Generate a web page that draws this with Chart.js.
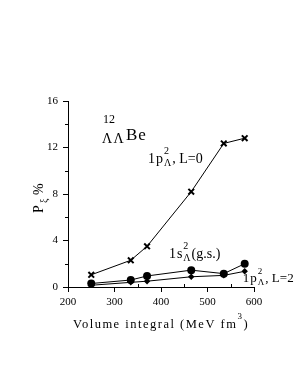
<!DOCTYPE html>
<html>
<head>
<meta charset="utf-8">
<script src="https://cdn.jsdelivr.net/npm/chart.js@4/dist/chart.umd.min.js"></script>
<style>
  html, body { margin: 0; padding: 0; background: #fff; }
  #wrap { width: 305px; height: 377px; }
</style>
</head>
<body>
<div id="wrap"><canvas id="lineChart" width="305" height="377"></canvas></div>
<script>
// volume integral (MeV fm^3)
var volumeIntegral = [250, 335, 370, 465, 535, 580];
// P, % for each configuration
var pL0 = [1.05, 2.3, 3.5, 8.2, 12.35, 12.8];   // 1p^2, L=0
var pGs = [0.3, 0.6, 0.95, 1.45, 1.15, 2.0];    // 1s^2 (g.s.)
var pL2 = [0.15, 0.4, 0.5, 0.88, 1.0, 1.35];    // 1p^2, L=2
var xTickLabels = [200, 300, 400, 500, 600];
var yTickLabels = [0, 4, 8, 12, 16];
var xMinor = [250, 350, 450, 550];
var yMinor = [2, 6, 10, 14];

var serif = "'Liberation Serif', 'DejaVu Serif', serif";

function points(ys) {
  var out = [];
  for (var i = 0; i < volumeIntegral.length; i++) {
    out.push({x: volumeIntegral[i], y: ys[i]});
  }
  return out;
}

// minor ticks and the text labels
var extras = {
  id: 'extras',
  afterDraw: function(chart) {
    var ctx = chart.ctx;
    var xs = chart.scales.x, ys = chart.scales.y;
    var bottom = chart.chartArea.bottom, left = chart.chartArea.left;
    ctx.save();
    ctx.strokeStyle = '#000';
    ctx.lineWidth = 1;
    ctx.beginPath();
    xMinor.forEach(function(v) {
      var px = Math.round(xs.getPixelForValue(v)) + 0.5;
      ctx.moveTo(px, bottom);
      ctx.lineTo(px, bottom - 3);
    });
    yMinor.forEach(function(v) {
      var py = Math.round(ys.getPixelForValue(v)) + 0.5;
      ctx.moveTo(left, py);
      ctx.lineTo(left - 3, py);
    });
    ctx.stroke();

    ctx.fillStyle = '#000';
    ctx.textBaseline = 'alphabetic';
    ctx.textAlign = 'left';

    function at(vx, vy) { return [xs.getPixelForValue(vx), ys.getPixelForValue(vy)]; }

    // 12/ΛΛ Be
    var p = at(275, 12.1);
    ctx.font = '12px ' + serif;
    ctx.fillText('12', p[0], p[1] - 23);
    ctx.letterSpacing = '1.5px';
    ctx.font = '14px ' + serif;
    ctx.fillText('ΛΛ', p[0] - 1, p[1] - 3);
    ctx.letterSpacing = '1px';
    ctx.font = '17px ' + serif;
    ctx.fillText('Be', p[0] + 23, p[1] - 6);
    ctx.letterSpacing = '0px';

    // label helper: 1x^2_Λ + tail
    function orbital(vx, vy, head, tail, size) {
      var q = at(vx, vy);
      ctx.font = size + 'px ' + serif;
      ctx.letterSpacing = '1px';
      ctx.fillText(head, q[0], q[1]);
      var w = ctx.measureText(head).width;
      ctx.font = Math.round(size * 0.72) + 'px ' + serif;
      ctx.letterSpacing = '0px';
      ctx.fillText('2', q[0] + w, q[1] - size * 0.64);
      ctx.fillText('Λ', q[0] + w, q[1] + 3);
      var w2 = ctx.measureText('Λ').width;
      ctx.font = size + 'px ' + serif;
      ctx.fillText(tail, q[0] + w + w2 + 1, q[1]);
    }
    orbital(372, 10.65, '1p', ', L=0', 14);
    orbital(417, 2.5, '1s', '(g.s.)', 14);
    orbital(576, 0.43, '1p', ', L=2', 13);

    // y title
    ctx.save();
    ctx.translate(43, 213);
    ctx.rotate(-Math.PI / 2);
    ctx.font = '14px ' + serif;
    ctx.fillText('P', 0, 0);
    ctx.font = '10px ' + serif;
    ctx.fillText('ξ', 10, 4);
    ctx.font = '14px ' + serif;
    ctx.fillText('%', 18, 0);
    ctx.restore();

    // x title
    ctx.font = '12.5px ' + serif;
    ctx.letterSpacing = '1.5px';
    ctx.fillText('Volume integral (MeV fm', 73, 328);
    var tw = ctx.measureText('Volume integral (MeV fm').width;
    ctx.font = '9px ' + serif;
    ctx.fillText('3', 73 + tw, 319);
    ctx.font = '12.5px ' + serif;
    ctx.fillText(')', 73 + tw + 6, 328);
    ctx.restore();
  }
};

var chart = document.getElementById('lineChart');
var lineChart = new Chart(chart, {
  type: 'scatter',
  data: {
    datasets: [
      {
        label: '1p2 L=0',
        data: points(pL0),
        showLine: true,
        borderColor: '#000',
        borderWidth: 1,
        pointStyle: 'crossRot',
        pointRadius: 4,
        pointBorderWidth: 2,
        pointBorderColor: '#000',
        pointBackgroundColor: '#000'
      },
      {
        label: '1s2 g.s.',
        data: points(pGs),
        showLine: true,
        borderColor: '#000',
        borderWidth: 1,
        pointStyle: 'circle',
        pointRadius: 4,
        pointBorderWidth: 0,
        pointBackgroundColor: '#000'
      },
      {
        label: '1p2 L=2',
        data: points(pL2),
        showLine: true,
        borderColor: '#000',
        borderWidth: 1,
        pointStyle: 'rectRot',
        pointRadius: 3.2,
        pointBorderWidth: 0,
        pointBackgroundColor: '#000'
      }
    ]
  },
  options: {
    responsive: false,
    animation: false,
    devicePixelRatio: 1,
    layout: { padding: { left: 0, top: 101, right: 51, bottom: 60 } },
    plugins: { legend: { display: false }, tooltip: { enabled: false } },
    scales: {
      x: {
        type: 'linear',
        min: 200, max: 600,
        afterFit: function(s) { s.height = 30; },
        afterBuildTicks: function(s) { s.ticks = xTickLabels.map(function(v) { return {value: v}; }); },
        border: { display: true, color: '#000', width: 1 },
        grid: { drawOnChartArea: false, drawTicks: true, tickLength: 5, color: '#000' },
        ticks: { color: '#000', padding: 4, maxRotation: 0, font: { family: serif, size: 11 } }
      },
      y: {
        min: 0, max: 16,
        afterFit: function(s) { s.width = 68; },
        afterBuildTicks: function(s) { s.ticks = yTickLabels.map(function(v) { return {value: v}; }); },
        border: { display: true, color: '#000', width: 1 },
        grid: { drawOnChartArea: false, drawTicks: true, tickLength: 5, color: '#000' },
        ticks: { color: '#000', padding: 5, font: { family: serif, size: 11 } }
      }
    }
  },
  plugins: [extras]
});
</script>
</body>
</html>
